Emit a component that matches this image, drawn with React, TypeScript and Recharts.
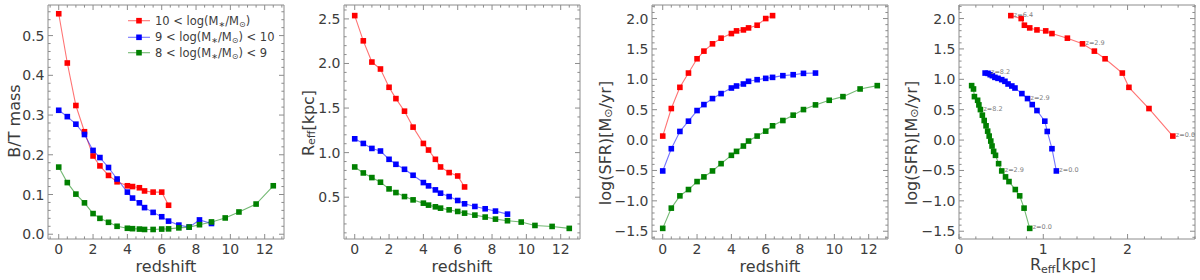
import React from 'react';
import { LineChart, Line, XAxis, YAxis, LabelList } from 'recharts';

// ---------------- data ----------------
const redshift = [0, 0.5, 1.0, 1.5, 2.0, 2.4, 2.9, 3.4, 4.0, 4.3, 4.7, 5.0, 5.5, 6.0, 6.4, 7.0, 7.6, 8.2, 8.9, 9.7, 10.5, 11.5, 12.5];

const seriesColors = ['#ff0000', '#0000ff', '#008000'];
const massLower = ['10', '9', '8'];
const massUpper = ['', '10', '9'];

// B/T mass
const btHigh = [0.555, 0.431, 0.324, 0.258, 0.197, 0.172, 0.148, 0.132, 0.122, 0.12, 0.117, 0.109, 0.106, 0.106, 0.073];
const btMid = [0.312, 0.296, 0.277, 0.251, 0.211, 0.193, 0.168, 0.139, 0.106, 0.091, 0.079, 0.067, 0.055, 0.044, 0.033, 0.023, 0.018, 0.036, 0.027];
const btLow = [0.169, 0.130, 0.101, 0.079, 0.052, 0.040, 0.030, 0.020, 0.015, 0.014, 0.013, 0.012, 0.012, 0.013, 0.0135, 0.016, 0.018, 0.024, 0.031, 0.041, 0.056, 0.076, 0.122];

// R_eff [kpc]
const reffHigh = [2.537, 2.254, 2.016, 1.938, 1.733, 1.606, 1.465, 1.286, 1.103, 1.029, 0.925, 0.839, 0.776, 0.738, 0.615];
const reffMid = [1.155, 1.103, 1.047, 1.018, 0.925, 0.869, 0.813, 0.746, 0.664, 0.627, 0.582, 0.545, 0.507, 0.463, 0.426, 0.396, 0.370, 0.344, 0.310];
const reffLow = [0.839, 0.772, 0.720, 0.668, 0.593, 0.552, 0.507, 0.470, 0.433, 0.411, 0.392, 0.377, 0.358, 0.340, 0.321, 0.299, 0.277, 0.254, 0.236, 0.221, 0.183, 0.172, 0.150];

// log(SFR)
const sfrHigh = [0.066, 0.519, 0.868, 1.103, 1.338, 1.464, 1.584, 1.677, 1.753, 1.797, 1.813, 1.846, 1.89, 2.0, 2.048];
const sfrMid = [-0.508, -0.142, 0.142, 0.311, 0.486, 0.584, 0.683, 0.765, 0.857, 0.89, 0.923, 0.967, 0.994, 1.016, 1.032, 1.06, 1.076, 1.098, 1.103];
const sfrLow = [-1.453, -1.12, -0.918, -0.814, -0.683, -0.606, -0.508, -0.388, -0.251, -0.186, -0.098, -0.016, 0.066, 0.147, 0.235, 0.322, 0.41, 0.502, 0.579, 0.655, 0.715, 0.841, 0.896];

// redshifts annotated in the last panel, per series
const noteHigh = [0.0, 2.9, 6.4];
const noteMid = [0.0, 2.9, 8.2];
const noteLow = [0.0, 2.9, 8.2];

// ticks
const zMajor = [0, 2, 4, 6, 8, 10, 12];
const btMajor = [0.0, 0.1, 0.2, 0.3, 0.4, 0.5];
const reffMajor = [0.5, 1.0, 1.5, 2.0, 2.5];
const sfrMajor = [-1.5, -1.0, -0.5, 0.0, 0.5, 1.0, 1.5, 2.0];
const rMajor = [0, 1, 2];

// ---------------- style ----------------
const FONT = "'DejaVu Sans', 'Liberation Sans', sans-serif";
const FRAME = '#8c8c8c';
const TXT = '#3c3c3c';
const TOP = 5;
const BOTTOM = 239;

// ---------------- helpers ----------------
const near = (a: number, b: number) => Math.abs(a - b) < 1e-6;
const minorTicks = (domain: number[], step: number) => {
  const out: number[] = [];
  const k0 = Math.ceil(domain[0] / step - 1e-9);
  const k1 = Math.floor(domain[1] / step + 1e-9);
  for (let k = k0; k <= k1; k++) out.push(Math.round(k * step * 1e6) / 1e6);
  return out;
};

type Pt = { x: number; y: number; note?: string };
const byRedshift = (ys: number[]): Pt[] => ys.map((y, i) => ({ x: redshift[i], y }));
const byReff = (rs: number[], ss: number[], notes: number[]): Pt[] =>
  rs.map((r, i) => ({
    x: r,
    y: ss[i],
    note: notes.some((z) => near(z, redshift[i])) ? 'z=' + redshift[i].toFixed(1) : '',
  }));

const fmt1 = (v: number) => (v < 0 ? '\u2212' : '') + Math.abs(v).toFixed(1);
const fmt0 = (v: number) => v.toFixed(0);

function makeTick(side: 'bottom' | 'top' | 'left' | 'right', majors: number[], fmt: ((v: number) => string) | null) {
  return (props: any) => {
    const { x, y, payload } = props;
    const v = payload.value as number;
    const major = majors.some((m) => near(m, v));
    const len = major ? 5 : 2.6;
    let x2 = x, y2 = y;
    if (side === 'bottom') y2 = y - len;
    if (side === 'top') y2 = y + len;
    if (side === 'left') x2 = x + len;
    if (side === 'right') x2 = x - len;
    let label: React.ReactNode = null;
    if (fmt && major) {
      if (side === 'bottom') {
        label = (
          <text x={x} y={y + 15} textAnchor="middle" fontSize={14} fontFamily={FONT} fill={TXT}>
            {fmt(v)}
          </text>
        );
      } else if (side === 'left') {
        label = (
          <text x={x - 3.5} y={y + 5} textAnchor="end" fontSize={14} fontFamily={FONT} fill={TXT}>
            {fmt(v)}
          </text>
        );
      }
    }
    return (
      <g>
        <line x1={x} y1={y} x2={x2} y2={y2} stroke={FRAME} strokeWidth={1} />
        {label}
      </g>
    );
  };
}

const squareDot = (color: string) => (props: any) => {
  const { cx, cy, index } = props;
  if (cx == null || cy == null) return <g key={'e' + index} />;
  const s = 5.6;
  return <rect key={'d' + index} x={cx - s / 2} y={cy - s / 2} width={s} height={s} fill={color} />;
};

const NoteLabel = (props: any) => {
  const { x, y, value } = props;
  if (!value) return null;
  return (
    <text x={x + 3} y={y + 1} fontSize={6.5} fontFamily={FONT} fill="#808080">
      {value}
    </text>
  );
};

type PanelCfg = {
  left: number;
  right: number;
  xDomain: number[];
  yDomain: number[];
  xStep: number;
  yStep: number;
  xMajor: number[];
  yMajor: number[];
  xFmt: (v: number) => string;
  yFmt: (v: number) => string;
  series: Pt[][];
  notes?: boolean;
};

const zDomain = [-0.625, 13.125];
const sfrDomain = [-1.628, 2.223];

const panels: PanelCfg[] = [
  {
    left: 48, right: 284, xDomain: zDomain, yDomain: [-0.012, 0.577], xStep: 0.5, yStep: 0.02,
    xMajor: zMajor, yMajor: btMajor, xFmt: fmt0, yFmt: fmt1,
    series: [byRedshift(btHigh), byRedshift(btMid), byRedshift(btLow)],
  },
  {
    left: 344, right: 580, xDomain: zDomain, yDomain: [0.031, 2.656], xStep: 0.5, yStep: 0.1,
    xMajor: zMajor, yMajor: reffMajor, xFmt: fmt0, yFmt: fmt1,
    series: [byRedshift(reffHigh), byRedshift(reffMid), byRedshift(reffLow)],
  },
  {
    left: 652, right: 888, xDomain: zDomain, yDomain: sfrDomain, xStep: 0.5, yStep: 0.1,
    xMajor: zMajor, yMajor: sfrMajor, xFmt: fmt0, yFmt: fmt1,
    series: [byRedshift(sfrHigh), byRedshift(sfrMid), byRedshift(sfrLow)],
  },
  {
    left: 959, right: 1195, xDomain: [0, 2.8], yDomain: sfrDomain, xStep: 0.2, yStep: 0.1,
    xMajor: rMajor, yMajor: sfrMajor, xFmt: fmt0, yFmt: fmt1,
    series: [byReff(reffHigh, sfrHigh, noteHigh), byReff(reffMid, sfrMid, noteMid), byReff(reffLow, sfrLow, noteLow)],
    notes: true,
  },
];

const AX = 1; // axis band thickness (must be > 0 for Recharts to draw the axis)

function Panel({ cfg }: { cfg: PanelCfg }) {
  const xt = minorTicks(cfg.xDomain, cfg.xStep);
  const yt = minorTicks(cfg.yDomain, cfg.yStep);
  const common = { tickSize: 0, tickMargin: 0, tickLine: false, interval: 0 as const, allowDataOverflow: true, axisLine: { stroke: FRAME, strokeWidth: 1 } };
  return (
    <div style={{ position: 'absolute', left: 0, top: 0 }}>
      <LineChart width={1200} height={280}
        margin={{ top: TOP - AX, bottom: 280 - BOTTOM - AX, left: cfg.left - AX, right: 1200 - cfg.right - AX }}>
        <XAxis xAxisId="b" orientation="bottom" type="number" dataKey="x" domain={cfg.xDomain} ticks={xt} height={AX}
          tick={makeTick('bottom', cfg.xMajor, cfg.xFmt)} {...common} />
        <XAxis xAxisId="t" orientation="top" type="number" dataKey="x" domain={cfg.xDomain} ticks={xt} height={AX}
          tick={makeTick('top', cfg.xMajor, null)} {...common} />
        <YAxis yAxisId="l" orientation="left" type="number" domain={cfg.yDomain} ticks={yt} width={AX}
          tick={makeTick('left', cfg.yMajor, cfg.yFmt)} {...common} />
        <YAxis yAxisId="r" orientation="right" type="number" domain={cfg.yDomain} ticks={yt} width={AX}
          tick={makeTick('right', cfg.yMajor, null)} {...common} />
        {cfg.series.map((pts, i) => (
          <Line key={i} xAxisId="b" yAxisId="l" data={pts} dataKey="y" type="linear"
            stroke={seriesColors[i]} strokeOpacity={0.55} strokeWidth={1.1}
            dot={squareDot(seriesColors[i])} activeDot={false} isAnimationActive={false}>
            {cfg.notes ? <LabelList dataKey="note" content={NoteLabel} /> : null}
          </Line>
        ))}
      </LineChart>
    </div>
  );
}

const Sub = ({ children, size, dy }: { children: React.ReactNode; size: number; dy: number }) => (
  <tspan fontSize={size} dy={dy}>{children}</tspan>
);

function Overlay() {
  const yLabel = (cx: number, cy: number, content: React.ReactNode, key: string) => (
    <text key={key} x={cx} y={cy} transform={`rotate(-90 ${cx} ${cy})`} textAnchor="middle" dominantBaseline="central"
      fontSize={16} fontFamily={FONT} fill={TXT}>{content}</text>
  );
  const sfrLabel = (
    <>
      {'log(SFR)[M'}<Sub size={11} dy={3}>{'\u2299'}</Sub><tspan dy={-3}>{'/yr]'}</tspan>
    </>
  );
  const reffLabel = (
    <>
      {'R'}<Sub size={11} dy={3}>eff</Sub><tspan dy={-3}>{'[kpc]'}</tspan>
    </>
  );
  const legendY = [20.7, 37.3, 52.7];
  return (
    <svg width={1200} height={280} style={{ position: 'absolute', left: 0, top: 0, pointerEvents: 'none' }}>
      {yLabel(14, 121, 'B/T mass', 'y1')}
      {yLabel(308, 123, reffLabel, 'y2')}
      {yLabel(605, 143, sfrLabel, 'y3')}
      {yLabel(911, 143, sfrLabel, 'y4')}
      {[166, 462, 770].map((cx, i) => (
        <text key={'x' + i} x={cx} y={272} textAnchor="middle" fontSize={16} fontFamily={FONT} fill={TXT}>redshift</text>
      ))}
      <text x={1063} y={270} textAnchor="middle" fontSize={16} fontFamily={FONT} fill={TXT}>
        {'R'}<Sub size={11} dy={3}>eff</Sub><tspan dy={-3}>{'[kpc]'}</tspan>
      </text>
      {seriesColors.map((c, i) => (
        <g key={'lg' + i}>
          <line x1={128} x2={150} y1={legendY[i]} y2={legendY[i]} stroke={c} strokeOpacity={0.55} strokeWidth={1.1} />
          <rect x={139 - 2.8} y={legendY[i] - 2.8} width={5.6} height={5.6} fill={c} />
          <text x={155} y={legendY[i] + 4} fontSize={11.5} fontFamily={FONT} fill={TXT}>
            {massLower[i] + ' < log(M'}<Sub size={8} dy={2}>{'\u2217'}</Sub><tspan dy={-2}>{'/M'}</tspan>
            <Sub size={8} dy={2}>{'\u2299'}</Sub><tspan dy={-2}>{')' + (massUpper[i] ? ' < ' + massUpper[i] : '')}</tspan>
          </text>
        </g>
      ))}
    </svg>
  );
}

export default function App() {
  return (
    <div style={{ position: 'absolute', left: 0, top: 0, width: 1200, height: 280, background: '#fff', overflow: 'hidden' }}>
      {panels.map((p, i) => (
        <Panel key={i} cfg={p} />
      ))}
      <Overlay />
    </div>
  );
}
